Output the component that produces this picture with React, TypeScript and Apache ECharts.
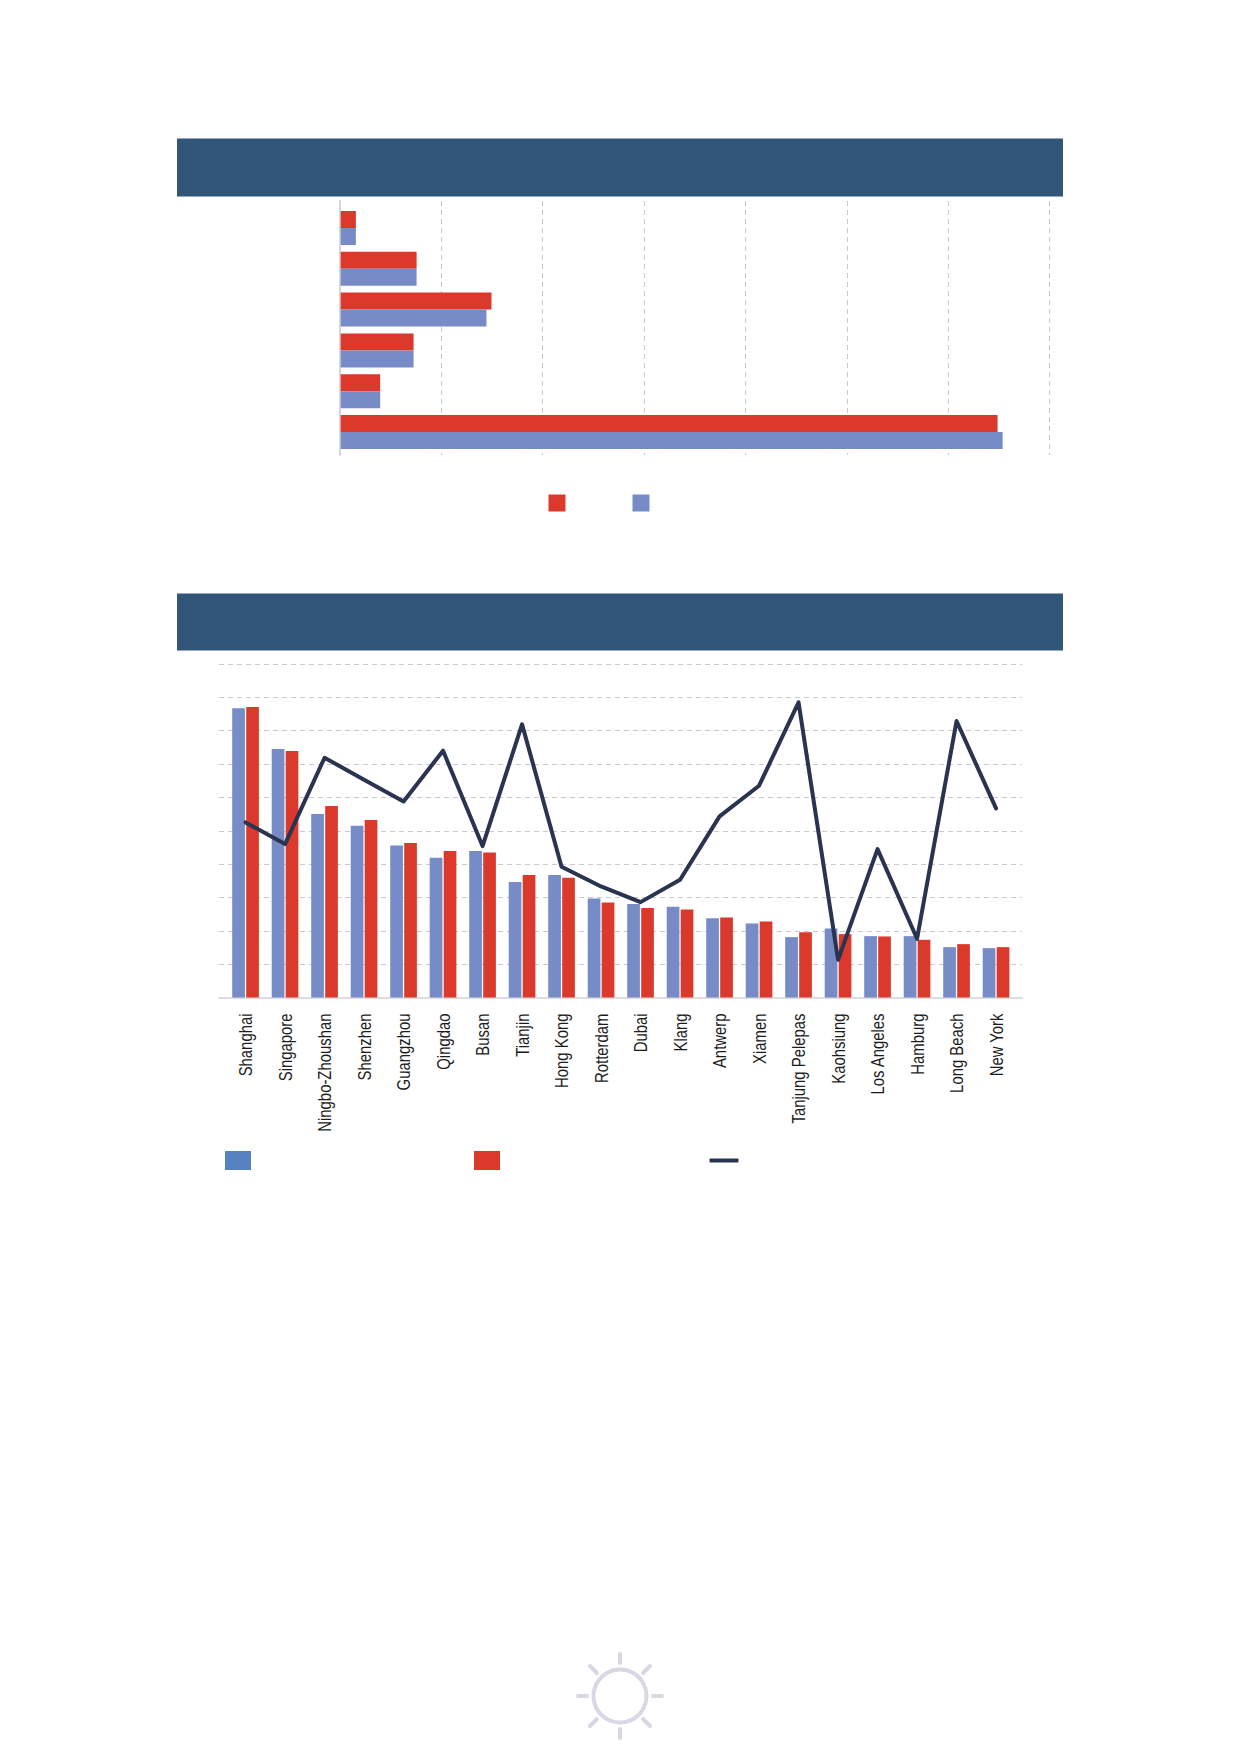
import React, { useEffect, useRef } from "react";
import * as echarts from "echarts";

const BLUE = "#778cc6";
const RED = "#dc392d";
const NAVY = "#2a3350";
const BANNER = "#32557a";
const LEGEND_BLUE = "#5782c1";

// Top chart (its labels are blank in the reference)
const topCategories = ["Group 6", "Group 5", "Group 4", "Group 3", "Group 2", "Group 1"];
const topBlue = [65.4, 3.9, 7.2, 14.4, 7.5, 1.5];
const topRed = [64.9, 3.9, 7.2, 14.9, 7.5, 1.5];

// Bottom chart
const ports = ["Shanghai", "Singapore", "Ningbo-Zhoushan", "Shenzhen", "Guangzhou", "Qingdao", "Busan", "Tianjin", "Hong Kong", "Rotterdam", "Dubai", "Klang", "Antwerp", "Xiamen", "Tanjung Pelepas", "Kaohsiung", "Los Angeles", "Hamburg", "Long Beach", "New York"];
const portBlue = [86.7, 74.5, 55.0, 51.5, 45.6, 41.9, 43.9, 34.6, 36.7, 29.7, 28.0, 27.2, 23.8, 22.2, 18.1, 20.7, 18.4, 18.4, 15.1, 14.8];
const portRed = [87.1, 73.9, 57.4, 53.2, 46.3, 43.9, 43.5, 36.7, 35.9, 28.5, 26.8, 26.4, 24.0, 22.8, 19.6, 19.0, 18.3, 17.3, 16.0, 15.1];
const portLine = [52.5, 46.0, 71.9, 65.3, 58.8, 74.0, 45.4, 81.9, 39.2, 33.3, 28.6, 35.3, 54.3, 63.5, 88.5, 11.3, 44.5, 17.6, 82.9, 56.7];

const grid = "#c9c9d2";
const splitStyle = { show: true, lineStyle: { color: grid, width: 1, type: [5, 4] as any } };
const hide = { axisLine: { show: false }, axisTick: { show: false }, axisLabel: { show: false }, splitLine: { show: false } };

const iconLegend = (name: string, left: number, top: number, color: string, w = 17, h = 17, icon = "rect") => ({
  data: [{ name, itemStyle: { color }, lineStyle: { opacity: 0 } }],
  left, top, padding: 0, itemWidth: w, itemHeight: h, icon,
  formatter: () => "", selectedMode: false,
});

const option: any = {
  animation: false,
  backgroundColor: "#ffffff",
  grid: [
    { left: 340, top: 201, width: 709.5, height: 254 },
    { left: 340.7, top: 207.6, width: 708.5, height: 244.8 },
    { left: 219, top: 664, width: 803, height: 333.5 },
    { left: 225.8, top: 664, width: 790, height: 333.5 },
  ],
  xAxis: [
    { gridIndex: 0, type: "value", min: 0, max: 70, interval: 10, axisLine: { show: false }, axisTick: { show: false }, axisLabel: { show: false }, splitLine: splitStyle },
    { gridIndex: 1, type: "value", min: 0, max: 70, interval: 10, ...hide },
    { gridIndex: 2, type: "value", min: 0, max: 1, axisLine: { show: true, onZero: false, lineStyle: { color: "#dedee2", width: 2 } }, axisTick: { show: false }, axisLabel: { show: false }, splitLine: { show: false } },
    {
      gridIndex: 3, type: "category", data: ports, axisLine: { show: false }, axisTick: { show: false }, splitLine: { show: false },
      axisLabel: { show: true, interval: 0, rotate: 90, margin: 16, color: "#1c1c1c", fontSize: 17.5, fontFamily: "'Liberation Sans', sans-serif" },
    },
  ],
  yAxis: [
    { gridIndex: 0, type: "value", min: 0, max: 1, axisLine: { show: true, onZero: false, lineStyle: { color: "#d6d6da", width: 2 } }, axisTick: { show: false }, axisLabel: { show: false }, splitLine: { show: false } },
    { gridIndex: 1, type: "category", data: topCategories, ...hide },
    { gridIndex: 2, type: "value", min: 0, max: 100, interval: 10, axisLine: { show: false }, axisTick: { show: false }, axisLabel: { show: false }, splitLine: splitStyle },
    { gridIndex: 3, type: "value", min: 0, max: 100, interval: 10, ...hide },
  ],
  legend: [
    iconLegend("Top red", 548.5, 494.5, RED),
    iconLegend("Top blue", 632.5, 494.5, BLUE),
    iconLegend("Port blue", 225, 1151, LEGEND_BLUE, 26, 19),
    iconLegend("Port red", 474, 1151, RED, 26, 19),
    iconLegend("Port line", 709.5, 1158.5, NAVY, 29, 4, "roundRect"),
  ],
  series: [
    { name: "Top red", type: "bar", xAxisIndex: 1, yAxisIndex: 1, data: topRed, barWidth: 17, barGap: "0%", itemStyle: { color: RED } },
    { name: "Top blue", type: "bar", xAxisIndex: 1, yAxisIndex: 1, data: topBlue, barWidth: 17, barGap: "0%", itemStyle: { color: BLUE } },
    { name: "Port blue", type: "bar", xAxisIndex: 3, yAxisIndex: 3, data: portBlue, barWidth: 12.7, barGap: "10%", itemStyle: { color: BLUE } },
    { name: "Port red", type: "bar", xAxisIndex: 3, yAxisIndex: 3, data: portRed, barWidth: 12.7, barGap: "10%", itemStyle: { color: RED } },
    { name: "Port line", type: "line", xAxisIndex: 3, yAxisIndex: 3, data: portLine, symbol: "none", z: 5, lineStyle: { color: NAVY, width: 4, cap: "round", join: "round" }, itemStyle: { color: NAVY } },
  ],
  graphic: [
    { type: "rect", shape: { x: 177, y: 138.5, width: 886, height: 58 }, style: { fill: BANNER } },
    { type: "rect", shape: { x: 177, y: 593.5, width: 886, height: 57 }, style: { fill: BANNER } },
    {
      type: "group", x: 620, y: 1696,
      children: [
        { type: "circle", shape: { cx: 0, cy: 0, r: 26.5 }, style: { fill: "none", stroke: "#d8d8e4", lineWidth: 4 } },
        ...[[0, -33, 0, -42], [0, 33, 0, 42], [-33, 0, -42, 0], [33, 0, 42, 0], [-23, -23, -30, -30], [23, -23, 30, -30], [-23, 23, -30, 30], [23, 23, 30, 30]].map(([x1, y1, x2, y2]) => ({
          type: "line", shape: { x1, y1, x2, y2 }, style: { stroke: "#d8d8e4", lineWidth: 4, lineCap: "round" },
        })),
      ],
    },
  ],
};

export default function App() {
  const ref = useRef<HTMLDivElement>(null);
  useEffect(() => {
    document.body.style.margin = "0";
    const chart = echarts.init(ref.current!, undefined, { renderer: "svg" });
    chart.setOption(option);
    // The reference's labels use a condensed face: narrow the label text along its own direction.
    ref.current!.querySelectorAll("text").forEach((t) => {
      if (ports.includes((t.textContent || "").trim())) {
        const tr = t.getAttribute("transform") || "";
        t.setAttribute("transform", `${tr} scale(0.85,1)`);
      }
    });
    return () => chart.dispose();
  }, []);
  return <div ref={ref} style={{ position: "absolute", left: 0, top: 0, width: 1239, height: 1752 }} />;
}
